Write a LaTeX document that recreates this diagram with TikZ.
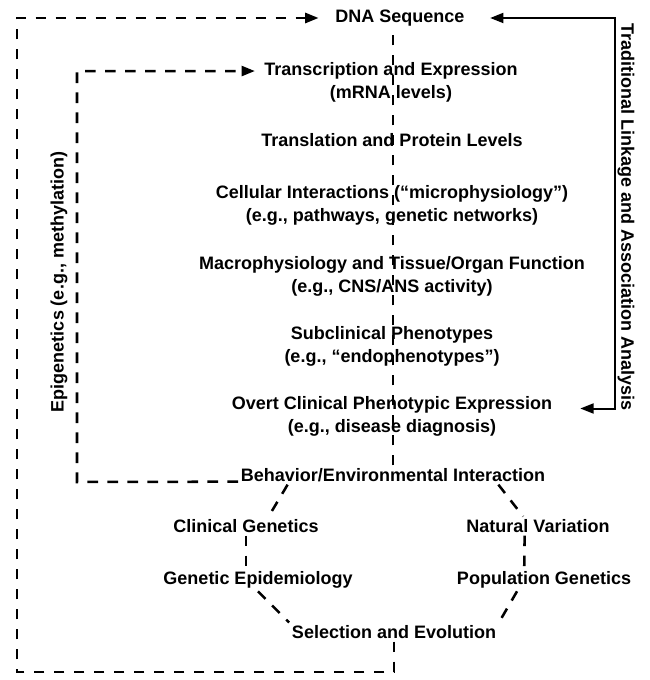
\documentclass[tikz,border=0pt]{standalone}
\usepackage{fontspec}
\setmainfont{Liberation Sans}
\usetikzlibrary{arrows.meta,calc,positioning}

\begin{document}
\begin{tikzpicture}[
    x=0.75pt, y=-0.75pt,
    font=\fontsize{13.5}{17.25}\selectfont\bfseries,
    >=latex,
]

\tikzset{
    level/.style = {align=center, inner sep=2pt},
    side_label/.style = {inner sep=0pt},
    dash_link/.style = {line width=1.9pt, dash pattern=on 8pt off 7pt},
    dash_arrow/.style = {dash_link, -{Triangle[length=10pt, width=7.5pt]}},
    solid_arrow/.style = {line width=1.5pt,
                          {Triangle[length=10pt, width=7.5pt]}-{Triangle[length=10pt, width=7.5pt]}}
}

\useasboundingbox (0,0) rectangle (649,680);

% =========== MAIN CHAIN ===========
\node[level] (dna) at (400,18) {DNA Sequence};
\node[level] (trans) at (391,82.5) {Transcription and Expression\\(mRNA levels)};
\node[level] (transl) at (392,140) {Translation and Protein Levels};
\node[level] (cell) at (392,205) {Cellular Interactions (“microphysiology”)\\(e.g., pathways, genetic networks)};
\node[level] (macro) at (392,276) {Macrophysiology and Tissue/Organ Function\\(e.g., CNS/ANS activity)};
\node[level] (subclin) at (392,346.5) {Subclinical Phenotypes\\(e.g., “endophenotypes”)};
\node[level] (overt) at (392,416.5) {Overt Clinical Phenotypic Expression\\(e.g., disease diagnosis)};
\node[level] (behav) at (393,475) {Behavior/Environmental Interaction};

% dashed spine behind the levels
\draw[dash_link] (behav.north) -- (behav.north |- dna.south);

% =========== RING OF DISCIPLINES ===========
\node[level] (clin) at (246,526) {Clinical Genetics};
\node[level] (natvar) at (538,526) {Natural Variation};
\node[level] (genepi) at (258,580) {Genetic Epidemiology};
\node[level] (popgen) at (544,580) {Population Genetics};
\node[level] (select) at (394,632) {Selection and Evolution};

\draw[dash_link] ($(behav.south west)!0.16!(behav.south east)$) -- ($(clin.north west)!0.65!(clin.north east)$);
\draw[dash_link] (clin.south) -- (clin.south |- genepi.north);
\draw[dash_link] (genepi.south) -- (select.north west);
\draw[dash_link] ($(behav.south west)!0.84!(behav.south east)$) -- ($(natvar.north west)!0.4!(natvar.north east)$);
\draw[dash_link] ($(natvar.south west)!0.41!(natvar.south east)$) -- ($(popgen.north west)!0.39!(popgen.north east)$);
\draw[dash_link] ($(popgen.south west)!0.35!(popgen.south east)$) -- (select.north east);

% =========== FEEDBACK LOOPS ===========
\coordinate (outer_corner) at (17,672);
\coordinate (inner_corner) at (77,482);
\coordinate (right_corner) at (615,18);

% outer loop: selection back to DNA
\draw[dash_arrow, shorten >=10.5pt] (select.south) |- (outer_corner) |- (dna.west);

% inner loop: behavior back to transcription
\draw[dash_arrow, shorten >=5pt] ([yshift=-5pt]behav.west) -- (inner_corner) |- ([yshift=8.6pt]trans.west);

% linkage / association
\draw[solid_arrow, shorten <=19pt, shorten >=17pt] ([yshift=6pt]overt.east) -| (right_corner) -- (dna.east);

% side labels
\node[side_label, rotate=-90] (trad) at (626,217) {Traditional Linkage and Association Analysis};
\node[side_label, rotate=90] (epi) at (59,282) {Epigenetics (e.g., methylation)};

\end{tikzpicture}
\end{document}
